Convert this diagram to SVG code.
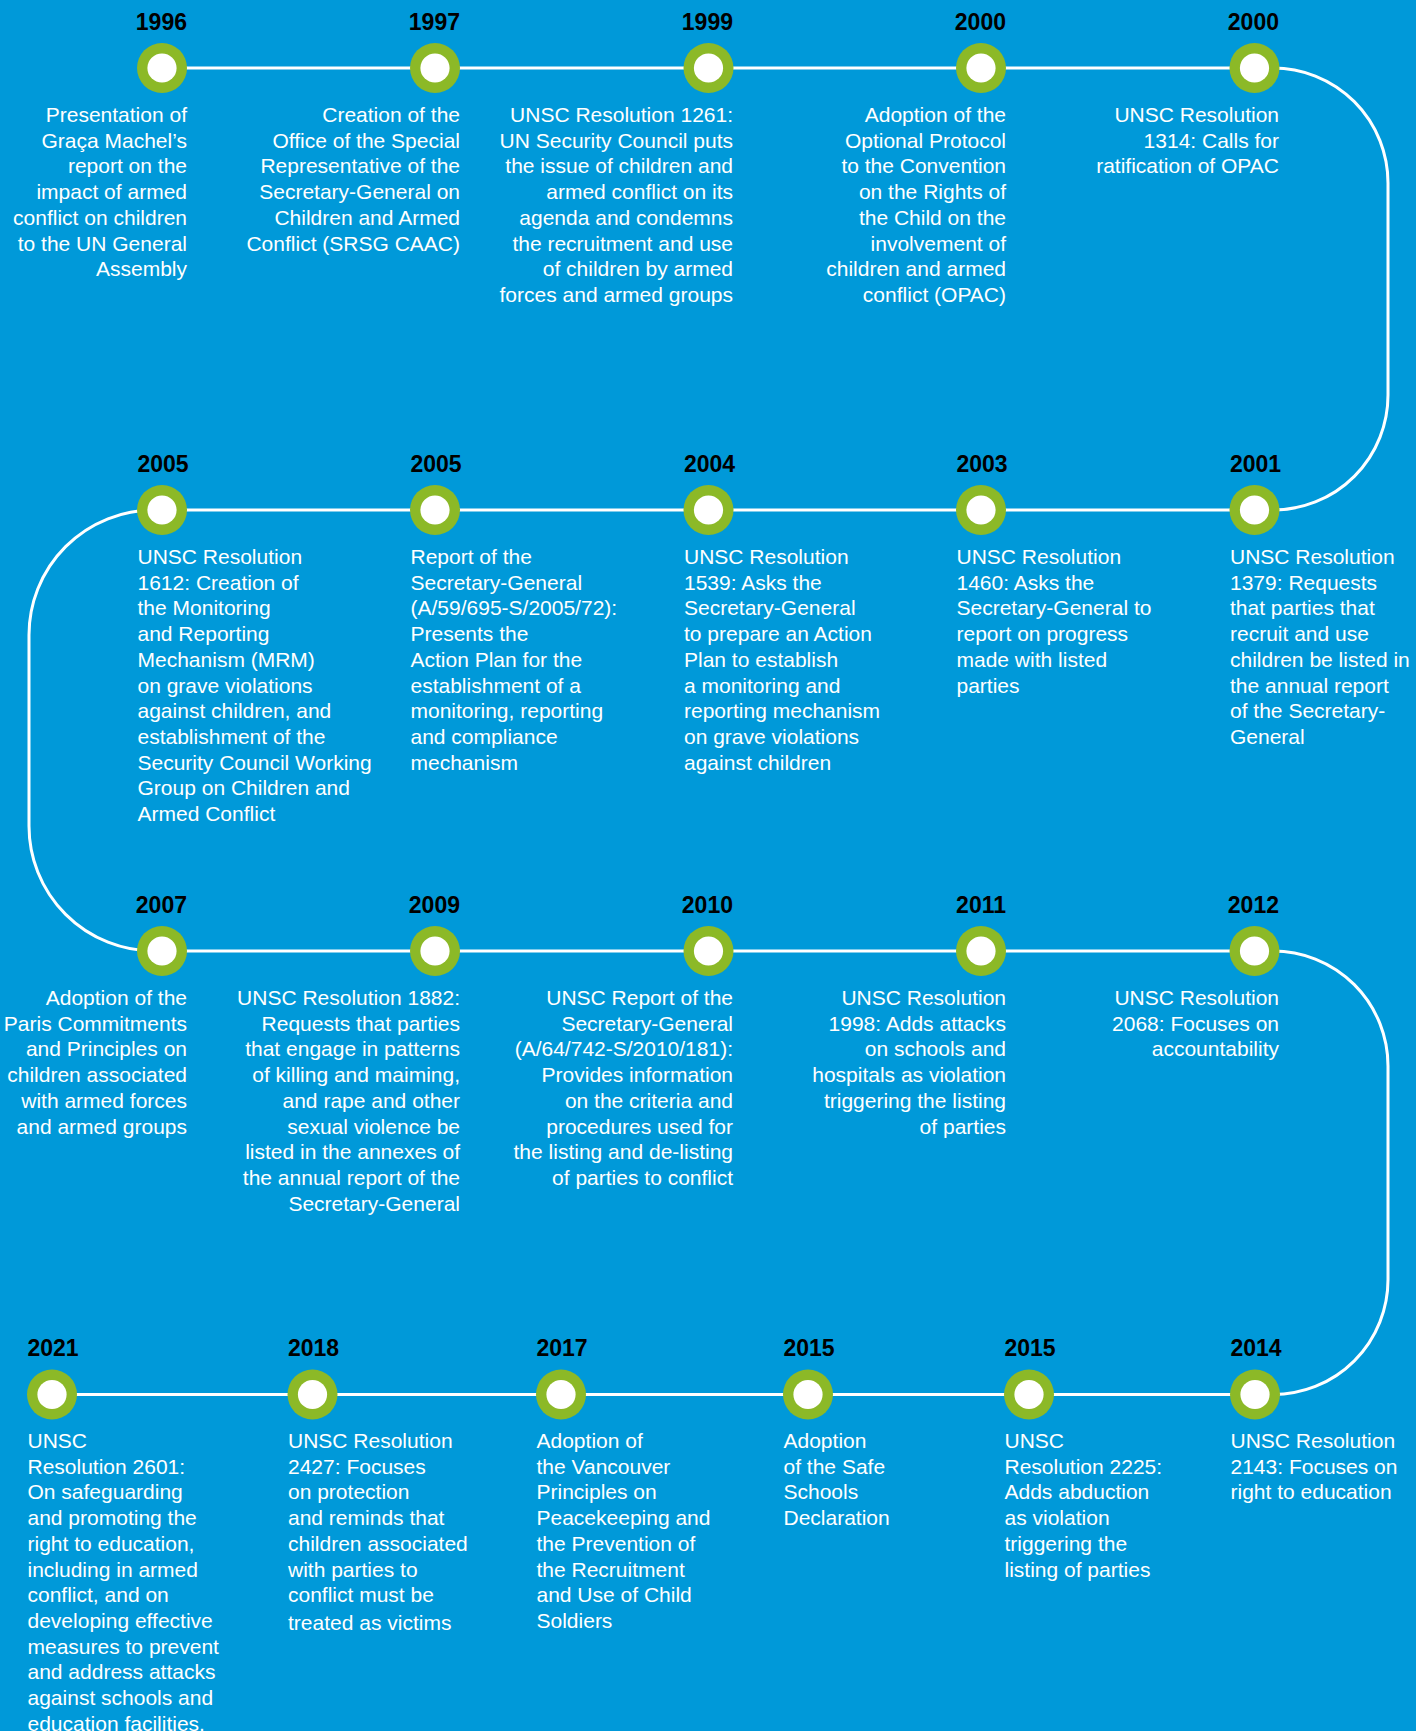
<svg xmlns="http://www.w3.org/2000/svg" width="1416" height="1731" viewBox="0 0 1416 1731">
<style>
.bg{fill:#0099D9}
.line{fill:none;stroke:#ffffff;stroke-width:3}
.ring{fill:#8CB927}
.dot{fill:#ffffff}
.yr{font-family:"Liberation Sans",Arial,sans-serif;font-weight:bold;font-size:23px;fill:#000000}
.d{font-family:"Liberation Sans",Arial,sans-serif;font-size:21px;fill:#ffffff}
.r{text-anchor:end}
</style>
<defs>
<g id="node"><circle r="25" class="ring"/><circle r="14.6" class="dot"/></g>
</defs>
<rect class="bg" x="0" y="0" width="1416" height="1731"/>
<g id="connectors">
<path class="line" d="M162,68 H1273 A115,115 0 0 1 1388,183 V395 A115,115 0 0 1 1273,510 H154 A125,125 0 0 0 29,635 V826 A125,125 0 0 0 154,951 H1273 A115,115 0 0 1 1388,1066 V1279.5 A115,115 0 0 1 1273,1394.5 H52"/>
</g>

<!-- Row 1 -->
<g id="n1996">
<use href="#node" x="162" y="68"/>
<text class="yr r" x="187" y="30">1996</text>
<text class="d r" y="122"><tspan x="187">Presentation of</tspan><tspan x="187" dy="25.7">Graça Machel’s</tspan><tspan x="187" dy="25.7">report on the</tspan><tspan x="187" dy="25.7">impact of armed</tspan><tspan x="187" dy="25.7">conflict on children</tspan><tspan x="187" dy="25.7">to the UN General</tspan><tspan x="187" dy="25.7">Assembly</tspan></text>
</g>
<g id="n1997">
<use href="#node" x="435" y="68"/>
<text class="yr r" x="460" y="30">1997</text>
<text class="d r" y="122"><tspan x="460">Creation of the</tspan><tspan x="460" dy="25.7">Office of the Special</tspan><tspan x="460" dy="25.7">Representative of the</tspan><tspan x="460" dy="25.7">Secretary-General on</tspan><tspan x="460" dy="25.7">Children and Armed</tspan><tspan x="460" dy="25.7">Conflict (SRSG CAAC)</tspan></text>
</g>
<g id="n1999">
<use href="#node" x="708.5" y="68"/>
<text class="yr r" x="733" y="30">1999</text>
<text class="d r" y="122"><tspan x="733">UNSC Resolution 1261:</tspan><tspan x="733" dy="25.7">UN Security Council puts</tspan><tspan x="733" dy="25.7">the issue of children and</tspan><tspan x="733" dy="25.7">armed conflict on its</tspan><tspan x="733" dy="25.7">agenda and condemns</tspan><tspan x="733" dy="25.7">the recruitment and use</tspan><tspan x="733" dy="25.7">of children by armed</tspan><tspan x="733" dy="25.7">forces and armed groups</tspan></text>
</g>
<g id="n2000a">
<use href="#node" x="981" y="68"/>
<text class="yr r" x="1006" y="30">2000</text>
<text class="d r" y="122"><tspan x="1006">Adoption of the</tspan><tspan x="1006" dy="25.7">Optional Protocol</tspan><tspan x="1006" dy="25.7">to the Convention</tspan><tspan x="1006" dy="25.7">on the Rights of</tspan><tspan x="1006" dy="25.7">the Child on the</tspan><tspan x="1006" dy="25.7">involvement of</tspan><tspan x="1006" dy="25.7">children and armed</tspan><tspan x="1006" dy="25.7">conflict (OPAC)</tspan></text>
</g>
<g id="n2000b">
<use href="#node" x="1254.5" y="68"/>
<text class="yr r" x="1279" y="30">2000</text>
<text class="d r" y="122"><tspan x="1279">UNSC Resolution</tspan><tspan x="1279" dy="25.7">1314: Calls for</tspan><tspan x="1279" dy="25.7">ratification of OPAC</tspan></text>
</g>

<!-- Row 2 -->
<g id="n2005a">
<use href="#node" x="162" y="510"/>
<text class="yr" x="137.5" y="472">2005</text>
<text class="d" y="564"><tspan x="137.5">UNSC Resolution</tspan><tspan x="137.5" dy="25.7">1612: Creation of</tspan><tspan x="137.5" dy="25.7">the Monitoring</tspan><tspan x="137.5" dy="25.7">and Reporting</tspan><tspan x="137.5" dy="25.7">Mechanism (MRM)</tspan><tspan x="137.5" dy="25.7">on grave violations</tspan><tspan x="137.5" dy="25.7">against children, and</tspan><tspan x="137.5" dy="25.7">establishment of the</tspan><tspan x="137.5" dy="25.7">Security Council Working</tspan><tspan x="137.5" dy="25.7">Group on Children and</tspan><tspan x="137.5" dy="25.7">Armed Conflict</tspan></text>
</g>
<g id="n2005b">
<use href="#node" x="435" y="510"/>
<text class="yr" x="410.5" y="472">2005</text>
<text class="d" y="564"><tspan x="410.5">Report of the</tspan><tspan x="410.5" dy="25.7">Secretary-General</tspan><tspan x="410.5" dy="25.7">(A/59/695-S/2005/72):</tspan><tspan x="410.5" dy="25.7">Presents the</tspan><tspan x="410.5" dy="25.7">Action Plan for the</tspan><tspan x="410.5" dy="25.7">establishment of a</tspan><tspan x="410.5" dy="25.7">monitoring, reporting</tspan><tspan x="410.5" dy="25.7">and compliance</tspan><tspan x="410.5" dy="25.7">mechanism</tspan></text>
</g>
<g id="n2004">
<use href="#node" x="708.5" y="510"/>
<text class="yr" x="684" y="472">2004</text>
<text class="d" y="564"><tspan x="684">UNSC Resolution</tspan><tspan x="684" dy="25.7">1539: Asks the</tspan><tspan x="684" dy="25.7">Secretary-General</tspan><tspan x="684" dy="25.7">to prepare an Action</tspan><tspan x="684" dy="25.7">Plan to establish</tspan><tspan x="684" dy="25.7">a monitoring and</tspan><tspan x="684" dy="25.7">reporting mechanism</tspan><tspan x="684" dy="25.7">on grave violations</tspan><tspan x="684" dy="25.7">against children</tspan></text>
</g>
<g id="n2003">
<use href="#node" x="981" y="510"/>
<text class="yr" x="956.5" y="472">2003</text>
<text class="d" y="564"><tspan x="956.5">UNSC Resolution</tspan><tspan x="956.5" dy="25.7">1460: Asks the</tspan><tspan x="956.5" dy="25.7">Secretary-General to</tspan><tspan x="956.5" dy="25.7">report on progress</tspan><tspan x="956.5" dy="25.7">made with listed</tspan><tspan x="956.5" dy="25.7">parties</tspan></text>
</g>
<g id="n2001">
<use href="#node" x="1254.5" y="510"/>
<text class="yr" x="1230" y="472">2001</text>
<text class="d" y="564"><tspan x="1230">UNSC Resolution</tspan><tspan x="1230" dy="25.7">1379: Requests</tspan><tspan x="1230" dy="25.7">that parties that</tspan><tspan x="1230" dy="25.7">recruit and use</tspan><tspan x="1230" dy="25.7">children be listed in</tspan><tspan x="1230" dy="25.7">the annual report</tspan><tspan x="1230" dy="25.7">of the Secretary-</tspan><tspan x="1230" dy="25.7">General</tspan></text>
</g>

<!-- Row 3 -->
<g id="n2007">
<use href="#node" x="162" y="951"/>
<text class="yr r" x="187" y="913">2007</text>
<text class="d r" y="1005"><tspan x="187">Adoption of the</tspan><tspan x="187" dy="25.7">Paris Commitments</tspan><tspan x="187" dy="25.7">and Principles on</tspan><tspan x="187" dy="25.7">children associated</tspan><tspan x="187" dy="25.7">with armed forces</tspan><tspan x="187" dy="25.7">and armed groups</tspan></text>
</g>
<g id="n2009">
<use href="#node" x="435" y="951"/>
<text class="yr r" x="460" y="913">2009</text>
<text class="d r" y="1005"><tspan x="460">UNSC Resolution 1882:</tspan><tspan x="460" dy="25.7">Requests that parties</tspan><tspan x="460" dy="25.7">that engage in patterns</tspan><tspan x="460" dy="25.7">of killing and maiming,</tspan><tspan x="460" dy="25.7">and rape and other</tspan><tspan x="460" dy="25.7">sexual violence be</tspan><tspan x="460" dy="25.7">listed in the annexes of</tspan><tspan x="460" dy="25.7">the annual report of the</tspan><tspan x="460" dy="25.7">Secretary-General</tspan></text>
</g>
<g id="n2010">
<use href="#node" x="708.5" y="951"/>
<text class="yr r" x="733" y="913">2010</text>
<text class="d r" y="1005"><tspan x="733">UNSC Report of the</tspan><tspan x="733" dy="25.7">Secretary-General</tspan><tspan x="733" dy="25.7">(A/64/742-S/2010/181):</tspan><tspan x="733" dy="25.7">Provides information</tspan><tspan x="733" dy="25.7">on the criteria and</tspan><tspan x="733" dy="25.7">procedures used for</tspan><tspan x="733" dy="25.7">the listing and de-listing</tspan><tspan x="733" dy="25.7">of parties to conflict</tspan></text>
</g>
<g id="n2011">
<use href="#node" x="981" y="951"/>
<text class="yr r" x="1006" y="913">2011</text>
<text class="d r" y="1005"><tspan x="1006">UNSC Resolution</tspan><tspan x="1006" dy="25.7">1998: Adds attacks</tspan><tspan x="1006" dy="25.7">on schools and</tspan><tspan x="1006" dy="25.7">hospitals as violation</tspan><tspan x="1006" dy="25.7">triggering the listing</tspan><tspan x="1006" dy="25.7">of parties</tspan></text>
</g>
<g id="n2012">
<use href="#node" x="1254.5" y="951"/>
<text class="yr r" x="1279" y="913">2012</text>
<text class="d r" y="1005"><tspan x="1279">UNSC Resolution</tspan><tspan x="1279" dy="25.7">2068: Focuses on</tspan><tspan x="1279" dy="25.7">accountability</tspan></text>
</g>

<!-- Row 4 -->
<g id="n2021">
<use href="#node" x="52" y="1394.5"/>
<text class="yr" x="27.5" y="1356">2021</text>
<text class="d" y="1448"><tspan x="27.5">UNSC</tspan><tspan x="27.5" dy="25.7">Resolution 2601:</tspan><tspan x="27.5" dy="25.7">On safeguarding</tspan><tspan x="27.5" dy="25.7">and promoting the</tspan><tspan x="27.5" dy="25.7">right to education,</tspan><tspan x="27.5" dy="25.7">including in armed</tspan><tspan x="27.5" dy="25.7">conflict, and on</tspan><tspan x="27.5" dy="25.7">developing effective</tspan><tspan x="27.5" dy="25.7">measures to prevent</tspan><tspan x="27.5" dy="25.7">and address attacks</tspan><tspan x="27.5" dy="25.7">against schools and</tspan><tspan x="27.5" dy="25.7">education facilities.</tspan></text>
</g>
<g id="n2018">
<use href="#node" x="312.5" y="1394.5"/>
<text class="yr" x="288" y="1356">2018</text>
<text class="d" y="1448"><tspan x="288">UNSC Resolution</tspan><tspan x="288" dy="25.7">2427: Focuses</tspan><tspan x="288" dy="25.7">on protection</tspan><tspan x="288" dy="25.7">and reminds that</tspan><tspan x="288" dy="25.7">children associated</tspan><tspan x="288" dy="25.7">with parties to</tspan><tspan x="288" dy="25.7">conflict must be</tspan><tspan x="288" dy="27.7">treated as victims</tspan></text>
</g>
<g id="n2017">
<use href="#node" x="561" y="1394.5"/>
<text class="yr" x="536.5" y="1356">2017</text>
<text class="d" y="1448"><tspan x="536.5">Adoption of</tspan><tspan x="536.5" dy="25.7">the Vancouver</tspan><tspan x="536.5" dy="25.7">Principles on</tspan><tspan x="536.5" dy="25.7">Peacekeeping and</tspan><tspan x="536.5" dy="25.7">the Prevention of</tspan><tspan x="536.5" dy="25.7">the Recruitment</tspan><tspan x="536.5" dy="25.7">and Use of Child</tspan><tspan x="536.5" dy="25.7">Soldiers</tspan></text>
</g>
<g id="n2015a">
<use href="#node" x="808" y="1394.5"/>
<text class="yr" x="783.5" y="1356">2015</text>
<text class="d" y="1448"><tspan x="783.5">Adoption</tspan><tspan x="783.5" dy="25.7">of the Safe</tspan><tspan x="783.5" dy="25.7">Schools</tspan><tspan x="783.5" dy="25.7">Declaration</tspan></text>
</g>
<g id="n2015b">
<use href="#node" x="1029" y="1394.5"/>
<text class="yr" x="1004.5" y="1356">2015</text>
<text class="d" y="1448"><tspan x="1004.5">UNSC</tspan><tspan x="1004.5" dy="25.7">Resolution 2225:</tspan><tspan x="1004.5" dy="25.7">Adds abduction</tspan><tspan x="1004.5" dy="25.7">as violation</tspan><tspan x="1004.5" dy="25.7">triggering the</tspan><tspan x="1004.5" dy="25.7">listing of parties</tspan></text>
</g>
<g id="n2014">
<use href="#node" x="1255" y="1394.5"/>
<text class="yr" x="1230.5" y="1356">2014</text>
<text class="d" y="1448"><tspan x="1230.5">UNSC Resolution</tspan><tspan x="1230.5" dy="25.7">2143: Focuses on</tspan><tspan x="1230.5" dy="25.7">right to education</tspan></text>
</g>
</svg>
